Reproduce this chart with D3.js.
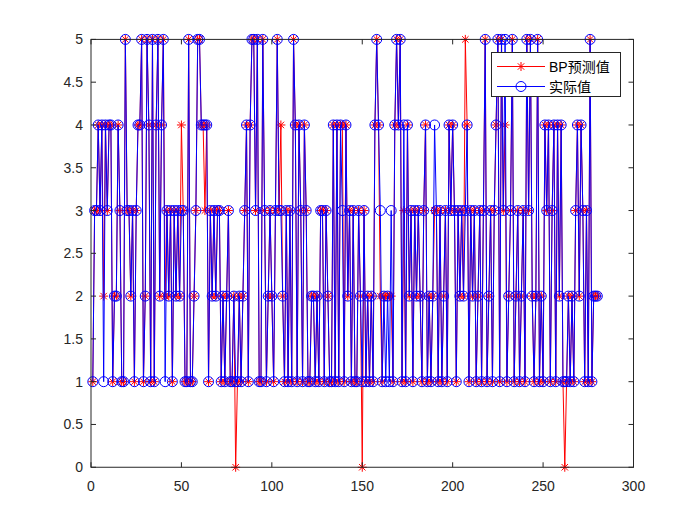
<!DOCTYPE html>
<html><head><meta charset="utf-8">
<script src="https://cdn.jsdelivr.net/npm/d3@7"></script>
<style>body{margin:0;background:#fff}svg{display:block}</style>
</head><body>
<script>
// Actual values (实际值), index 1..280
const actual = [
1,3,3,4,3,4,1,4,3,4,
4,1,2,2,4,3,1,1,5,3,
3,2,3,1,3,4,4,5,1,2,
5,4,1,5,1,4,5,2,4,5,
1,3,2,3,1,3,2,3,2,3,
3,1,1,5,1,1,2,3,5,5,
4,4,4,4,1,3,2,3,2,3,
3,1,2,1,2,3,1,1,2,1,
1,2,1,2,3,4,1,4,5,5,
3,5,1,1,5,3,1,2,3,2,
1,3,5,3,3,2,1,3,1,3,
1,5,4,1,4,3,1,4,3,1,
1,2,2,1,2,1,3,3,1,3,
2,1,1,4,1,4,1,4,3,1,
4,2,3,1,3,1,1,3,2,1,
3,1,2,1,2,1,4,5,4,3,
1,2,1,2,1,3,1,4,5,4,
5,1,4,1,4,2,3,1,3,2,
3,2,1,3,4,1,2,1,2,4,
3,1,3,1,2,3,1,4,3,4,
3,1,3,2,3,2,3,4,1,3,
2,3,1,2,3,1,3,5,1,2,
3,1,3,4,5,1,5,3,5,1,
2,3,5,1,2,3,1,2,3,1,
5,3,5,2,1,2,5,1,2,1,
4,3,4,1,3,4,1,4,2,4,
1,1,1,2,1,2,1,3,4,2,
4,3,1,3,1,5,1,2,2,2
];
// BP predictions differing from actual: [index, predicted]
const predDiff = [[7,2],[41,2],[50,4],[63,3],[80,0],[105,4],[139,4],[150,0],[160,2],[163,2],[165,2],[166,2],[173,3],[190,3],[207,5],[229,4],[262,0]];
const xTicks = [0,50,100,150,200,250,300];
const yTicks = [0,0.5,1,1.5,2,2.5,3,3.5,4,4.5,5];
const legendLabels = ["BP预测值","实际值"];

const predicted = actual.slice();
predDiff.forEach(([i,v]) => { predicted[i-1] = v; });

const W = 700, H = 525;
const L = 91, R = 633.5, T = 39.4, B = 467.25;
const svg = d3.select("body").append("svg").attr("width",W).attr("height",H);
const x = d3.scaleLinear().domain([0,300]).range([L,R]);
const y = d3.scaleLinear().domain([0,5]).range([B,T]);
const font = "'Liberation Sans', Arial, sans-serif";

const dataP = predicted.map((v,i)=>({i:i+1,v}));
const dataA = actual.map((v,i)=>({i:i+1,v}));
const line = d3.line().x(d=>x(d.i)).y(d=>y(d.v));

const plot = svg.append("g");
plot.append("path").datum(dataP).attr("d",line).attr("fill","none").attr("stroke","#ff0000").attr("stroke-width",1);
const star = (g, cx, cy, s, color) => {
  const p = d3.path();
  p.moveTo(cx-s,cy); p.lineTo(cx+s,cy);
  p.moveTo(cx,cy-s); p.lineTo(cx,cy+s);
  const d = s*0.72;
  p.moveTo(cx-d,cy-d); p.lineTo(cx+d,cy+d);
  p.moveTo(cx-d,cy+d); p.lineTo(cx+d,cy-d);
  g.append("path").attr("d",p.toString()).attr("stroke",color).attr("stroke-width",1).attr("fill","none");
};
const starG = plot.append("g");
dataP.forEach(d => star(starG, x(d.i), y(d.v), 4.5, "#ff0000"));
plot.append("path").datum(dataA).attr("d",line).attr("fill","none").attr("stroke","#0000ff").attr("stroke-width",1);
plot.append("g").selectAll("circle").data(dataA).join("circle")
  .attr("cx",d=>x(d.i)).attr("cy",d=>y(d.v)).attr("r",5)
  .attr("fill","none").attr("stroke","#0000ff").attr("stroke-width",1);

const ax = svg.append("g").attr("stroke","#262626").attr("stroke-width",1).attr("fill","none");
ax.append("rect").attr("x",L).attr("y",T).attr("width",R-L).attr("height",B-T);
const tl = 5;
xTicks.forEach(t => {
  ax.append("line").attr("x1",x(t)).attr("x2",x(t)).attr("y1",B).attr("y2",B-tl);
  ax.append("line").attr("x1",x(t)).attr("x2",x(t)).attr("y1",T).attr("y2",T+tl);
});
yTicks.forEach(t => {
  ax.append("line").attr("x1",L).attr("x2",L+tl).attr("y1",y(t)).attr("y2",y(t));
  ax.append("line").attr("x1",R).attr("x2",R-tl).attr("y1",y(t)).attr("y2",y(t));
});
svg.append("g").selectAll("text").data(xTicks).join("text")
  .attr("x",d=>x(d)).attr("y",B+24).attr("text-anchor","middle")
  .attr("font-family",font).attr("font-size",14).attr("fill","#262626").text(d=>d);
svg.append("g").selectAll("text").data(yTicks).join("text")
  .attr("x",L-8).attr("y",d=>y(d)+5).attr("text-anchor","end")
  .attr("font-family",font).attr("font-size",14).attr("fill","#262626").text(d=>d);

const lg = svg.append("g");
lg.append("rect").attr("x",491.5).attr("y",52.5).attr("width",129).attr("height",44)
  .attr("fill","#fff").attr("stroke","#262626").attr("stroke-width",1);
const rows = [{c:"#ff0000",y:66.5,m:"star"},{c:"#0000ff",y:86.5,m:"circle"}];
rows.forEach((r,k) => {
  lg.append("line").attr("x1",497).attr("x2",545).attr("y1",r.y).attr("y2",r.y).attr("stroke",r.c).attr("stroke-width",1);
  if (r.m==="star") star(lg,521,r.y,4.5,r.c);
  else lg.append("circle").attr("cx",521).attr("cy",r.y).attr("r",5).attr("fill","none").attr("stroke",r.c);
  lg.append("text").attr("x",549).attr("y",r.y+5).attr("font-family","'Liberation Sans','Noto Sans CJK SC',sans-serif")
    .attr("font-size",14).attr("fill","#000").text(legendLabels[k]);
});
</script>
</body></html>
